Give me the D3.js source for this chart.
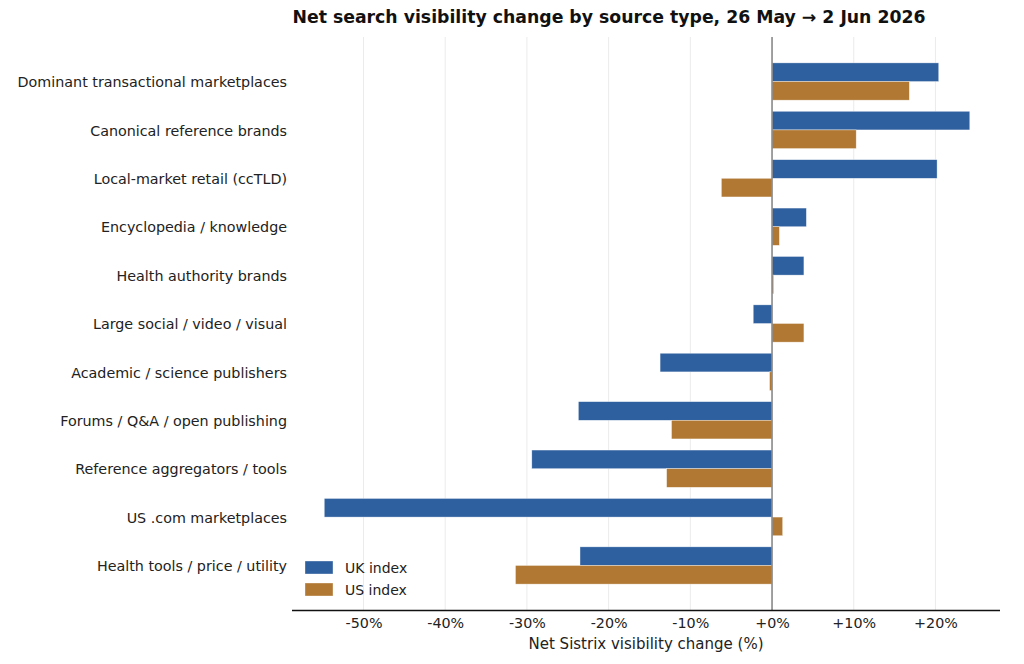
<!DOCTYPE html>
<html>
<head>
<meta charset="utf-8">
<script src="https://cdn.jsdelivr.net/npm/d3@7"></script>
<style>
    body { margin: 0; background: #fff; }
    svg { display: block; font-family: "DejaVu Sans", sans-serif; }
</style>
</head>
<body>
<svg id="chart" width="1024" height="664"></svg>
<script>
// Source types, top to bottom
const categories = [
    'Dominant transactional marketplaces',
    'Canonical reference brands',
    'Local-market retail (ccTLD)',
    'Encyclopedia / knowledge',
    'Health authority brands',
    'Large social / video / visual',
    'Academic / science publishers',
    'Forums / Q&A / open publishing',
    'Reference aggregators / tools',
    'US .com marketplaces',
    'Health tools / price / utility'
];

// Net change in %
const ukValues = [20.4, 24.2, 20.2, 4.2, 3.9, -2.3, -13.7, -23.7, -29.4, -54.8, -23.5];
const usValues = [16.8, 10.3, -6.2, 0.9, 0.2, 3.9, -0.3, -12.3, -12.9, 1.3, -31.4];

const tickValues = [-50, -40, -30, -20, -10, 0, 10, 20];

const series = [
    { name: 'UK index', values: ukValues, color: '#2e5f9f', offset: -1 },
    { name: 'US index', values: usValues, color: '#b07833', offset: 0 }
];

const svg = d3.select('#chart');
const plot = { left: 292, right: 1000, top: 37, bottom: 610 };
const barH = 0.385; // in row units

const x = d3.scaleLinear()
    .domain([-58.75, 27.9])
    .range([plot.left, plot.right]);

const y = d3.scaleLinear()
    .domain([-0.92, categories.length - 1 + 0.92])
    .range([plot.top, plot.bottom]);

// vertical grid lines
svg.append('g')
    .selectAll('line')
    .data(tickValues.filter(d => d !== 0))
    .enter()
    .append('line')
    .attr('x1', d => x(d))
    .attr('x2', d => x(d))
    .attr('y1', plot.top)
    .attr('y2', plot.bottom)
    .style('stroke', '#ebebeb')
    .style('stroke-width', 1);

// bars
series.forEach(s => {
    svg.append('g')
        .selectAll('rect')
        .data(s.values)
        .enter()
        .append('rect')
        .attr('x', d => x(Math.min(0, d)))
        .attr('width', d => Math.abs(x(d) - x(0)))
        .attr('y', (d, i) => y(i + s.offset * barH))
        .attr('height', y(barH) - y(0))
        .style('fill', s.color)
        .style('stroke', '#ffffff')
        .style('stroke-opacity', 0.6)
        .style('stroke-width', 0.6);
});

// zero line
svg.append('line')
    .attr('x1', x(0))
    .attr('x2', x(0))
    .attr('y1', plot.top)
    .attr('y2', plot.bottom)
    .style('stroke', '#888')
    .style('stroke-width', 1.6);

// category labels
svg.append('g')
    .selectAll('text')
    .data(categories)
    .enter()
    .append('text')
    .attr('x', plot.left - 5)
    .attr('y', (d, i) => y(i))
    .attr('dy', '0.4em')
    .attr('text-anchor', 'end')
    .style('font-size', '14.3px')
    .style('fill', '#222')
    .text(d => d);

// x axis
const xAxis = d3.axisBottom(x)
    .tickValues(tickValues)
    .tickSize(0)
    .tickPadding(8)
    .tickFormat(d => (d >= 0 ? '+' : '') + d + '%');

const axisG = svg.append('g')
    .attr('transform', `translate(0,${plot.bottom})`)
    .call(xAxis);
axisG.select('.domain')
    .attr('d', `M${plot.left},0.5H${plot.right}`)
    .style('stroke', '#111')
    .style('stroke-width', 1.3);
axisG.selectAll('text')
    .style('font-size', '14.3px')
    .style('font-family', '"DejaVu Sans", sans-serif')
    .style('fill', '#222');

svg.append('text')
    .attr('x', 646)
    .attr('y', 649)
    .attr('text-anchor', 'middle')
    .style('font-size', '15px')
    .style('fill', '#222')
    .text('Net Sistrix visibility change (%)');

// title
svg.append('text')
    .attr('x', 609)
    .attr('y', 23)
    .attr('text-anchor', 'middle')
    .style('font-size', '17.3px')
    .style('font-weight', 'bold')
    .style('fill', '#111')
    .text('Net search visibility change by source type, 26 May \u2192 2 Jun 2026');

// legend
const legend = svg.append('g')
    .selectAll('g')
    .data(series)
    .enter()
    .append('g')
    .attr('transform', (d, i) => `translate(305,${561 + i * 22})`);
legend.append('rect')
    .attr('width', 28)
    .attr('height', 13)
    .style('fill', d => d.color)
    .style('stroke', '#fff')
    .style('stroke-opacity', 0.6)
    .style('stroke-width', 0.6);
legend.append('text')
    .attr('x', 40)
    .attr('y', 7)
    .attr('dy', '0.35em')
    .style('font-size', '14px')
    .style('fill', '#222')
    .text(d => d.name);
</script>
</body>
</html>
